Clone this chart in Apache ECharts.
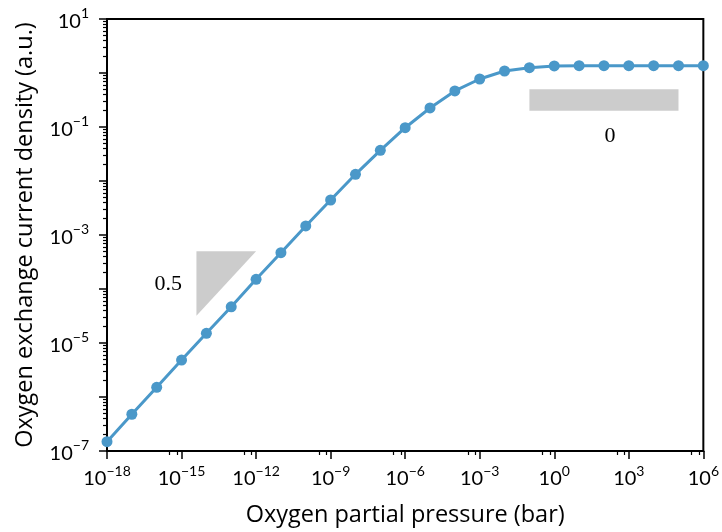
<!DOCTYPE html>
<html><head><meta charset="utf-8">
<script src="https://cdn.jsdelivr.net/npm/echarts@6/dist/echarts.min.js"></script>
<style>html,body{margin:0;padding:0;background:#fff}#c{width:722px;height:532px}</style>
</head><body><div id="c"></div>
<script>
// ---- data ----
const pressure = [1e-18,1e-17,1e-16,1e-15,1e-14,1e-13,1e-12,1e-11,1e-10,1e-9,1e-8,1e-7,1e-6,1e-5,1e-4,1e-3,1e-2,1e-1,1e0,1e1,1e2,1e3,1e4,1e5,1e6];
const current = [1.49e-7,4.79e-7,1.51e-6,4.84e-6,1.51e-5,4.68e-5,1.51e-4,4.70e-4,1.47e-3,4.45e-3,1.33e-2,3.70e-2,9.70e-2,0.225,0.465,0.774,1.089,1.256,1.349,1.365,1.365,1.365,1.365,1.365,1.365];
// slope annotations (data coordinates)
const triangleX = [3.98e-15, 1e-12, 3.98e-15];
const triangleY = [5.0e-4, 5.0e-4, 3.2e-5];
const barX = [0.1, 1e5];
const barY = [0.2, 0.5];
const slopeText = ['0.5', '0'];
const slopeTextX = [2.9e-16, 1.75e2];
const slopeTextY = [1.24e-4, 6.8e-2];
// tick labels / minor ticks
const yMinorTicks = [];
for (let e = -7; e < 1; e++) for (let m = 2; m <= 9; m++) yMinorTicks.push(+(m + 'e' + e));

const FONT = 'Lato';
const TITLE_FONT = 'Open Sans';
function sci(v) {
  const e = Math.round(Math.log10(v));
  return '{b|10}{s|' + (e < 0 ? '\u2212' + (-e) : String(e)) + '}';
}
const rich = {
  b: { fontSize: 20, fontFamily: FONT, color: '#000', lineHeight: 25, verticalAlign: 'bottom' },
  s: { fontSize: 14, fontFamily: FONT, color: '#000', lineHeight: 15, verticalAlign: 'top' }
};

const chart = echarts.init(document.getElementById('c'), null, { renderer: 'canvas' });
chart.setOption({
  animation: false,
  backgroundColor: '#fff',
  grid: { left: 107, right: 15, top: 19, bottom: 81, containLabel: false, show: true, borderColor: '#000', borderWidth: 2, backgroundColor: 'transparent' },
  xAxis: {
    type: 'log', logBase: 10, min: 1e-18, max: 1e6, interval: 3,
    name: 'Oxygen partial pressure (bar)', nameLocation: 'middle', nameGap: 52,
    nameTextStyle: { fontSize: 23.5, fontFamily: TITLE_FONT, color: '#000' },
    axisLine: { lineStyle: { color: '#000', width: 2 } },
    axisTick: { length: 8, lineStyle: { color: '#000', width: 1.5 } },
    minorTick: { show: true, splitNumber: 3, length: 4, lineStyle: { color: '#000', width: 1.2 } },
    axisLabel: { margin: 13, formatter: sci, rich: rich },
    splitLine: { show: false }, minorSplitLine: { show: false }
  },
  yAxis: [{
    type: 'log', logBase: 10, min: 1e-7, max: 10, interval: 1,
    name: 'Oxygen exchange current density (a.u.)', nameLocation: 'middle', nameGap: 70,
    nameTextStyle: { fontSize: 23.5, fontFamily: TITLE_FONT, color: '#000' },
    axisLine: { lineStyle: { color: '#000', width: 2 } },
    axisTick: { length: 8, lineStyle: { color: '#000', width: 1.5 } },
    axisLabel: { margin: 18, formatter: function (v) { const e = Math.round(Math.log10(v)); return (Math.abs(e) % 2 === 1) ? sci(v) : ''; }, rich: rich },
    splitLine: { show: false }
  }, {
    type: 'log', logBase: 10, min: 1e-7, max: 10, position: 'left',
    axisLine: { show: false },
    axisTick: { show: true, length: 4, customValues: yMinorTicks, lineStyle: { color: '#000', width: 1.2 } },
    axisLabel: { show: false },
    splitLine: { show: false }
  }],
  series: [{
    type: 'custom', z: 1, silent: true,
    data: [[triangleX[0], triangleY[0]]],
    renderItem: function (params, api) {
      return { type: 'polygon', shape: { points: triangleX.map((x, i) => api.coord([x, triangleY[i]])) }, style: { fill: '#cccccc' } };
    }
  }, {
    type: 'custom', z: 1, silent: true,
    data: [[barX[0], barY[0]]],
    renderItem: function (params, api) {
      const a = api.coord([barX[0], barY[1]]), b = api.coord([barX[1], barY[0]]);
      return { type: 'rect', shape: { x: a[0], y: a[1], width: b[0] - a[0], height: b[1] - a[1] }, style: { fill: '#cccccc' } };
    }
  }, {
    type: 'custom', z: 3, silent: true, clip: false,
    data: slopeText.map((t, i) => [slopeTextX[i], slopeTextY[i]]),
    renderItem: function (params, api) {
      const p = api.coord([api.value(0), api.value(1)]);
      return { type: 'text', style: { text: slopeText[params.dataIndex], x: p[0], y: p[1], fill: '#000', font: '22px "Liberation Serif"', align: 'center', verticalAlign: 'middle' } };
    }
  }, {
    type: 'line', z: 2,
    data: pressure.map((p, i) => [p, current[i]]),
    symbol: 'circle', symbolSize: 11,
    lineStyle: { color: '#4a98c9', width: 3 },
    itemStyle: { color: '#4a98c9' }
  }]
});
</script></body></html>
